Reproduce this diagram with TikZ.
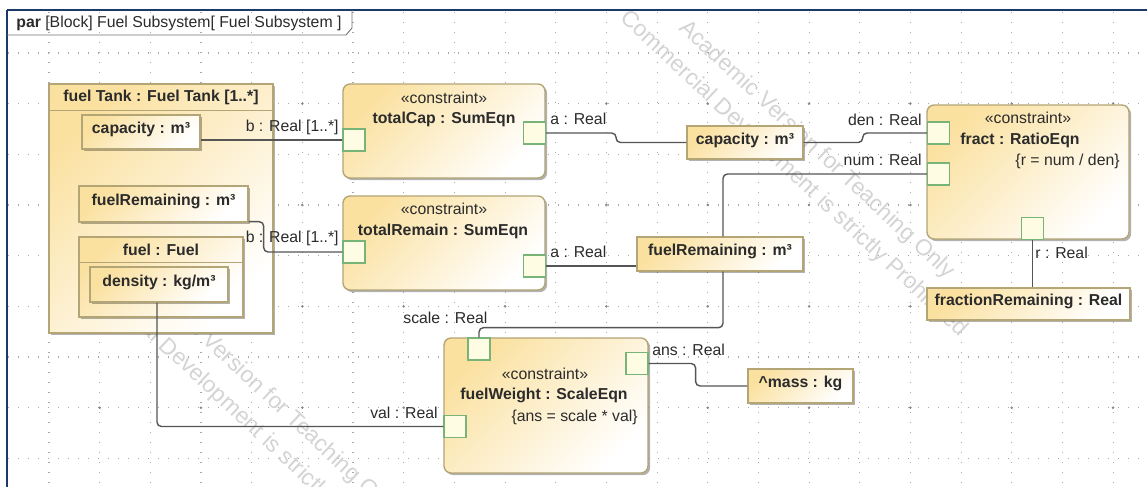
\documentclass[tikz,border=0pt]{standalone}
\usepackage{fontspec}
\setmainfont{Liberation Sans}
\usepackage{tikz}
\usetikzlibrary{positioning,calc,shadows}
\definecolor{umlamber}{HTML}{FBE1A0}
\definecolor{umlline}{HTML}{B3A575}
\definecolor{portfill}{HTML}{FFFCE4}
\definecolor{portline}{HTML}{78B478}
\definecolor{wire}{HTML}{555555}
\definecolor{framenavy}{HTML}{1C3A68}
\definecolor{gridgray}{HTML}{A8A8A8}
\definecolor{inktext}{HTML}{2B2B2B}
\tikzset{
  boxshade/.style={top color=umlamber, bottom color=white, shading angle=45},
  boxshadow/.style={drop shadow={shadow xshift=1.2pt, shadow yshift=-1.2pt,
    fill=black, opacity=0.3}},
  partbox/.style={rectangle, draw=umlline, line width=0.8pt, boxshade, boxshadow,
    minimum width=#1, minimum height=0.68cm, inner sep=0pt,
    font=\fontsize{9}{10}\selectfont\bfseries, text=inktext,
    text height=0.75em, text depth=0.55em},
  partbox/.default=2.4cm,
  holderbox/.style={rectangle, draw=umlline, line width=0.8pt, boxshade, boxshadow,
    inner sep=0pt},
  cblock/.style={rectangle, rounded corners=4pt, draw=umlline, line width=0.8pt,
    boxshade, boxshadow, minimum width=4.04cm, minimum height=1.88cm, inner sep=0pt},
  portbox/.style={rectangle, draw=portline, fill=portfill, line width=0.7pt,
    minimum size=0.44cm, inner sep=0pt},
  stereo/.style={font=\fontsize{9}{10}\selectfont, text=inktext, inner sep=0pt},
  cname/.style={font=\fontsize{9}{10}\selectfont\bfseries, text=inktext, inner sep=0pt},
  pinlabel/.style={font=\fontsize{9}{10}\selectfont, text=inktext, inner sep=0pt},
  bindline/.style={draw=wire, line width=0.8pt, rounded corners=2.5pt},
  gridline/.style={draw=gridgray, line width=0.6pt, dash pattern=on 0.6pt off 5.09pt},
  watermark/.style={font=\fontsize{13}{19}\selectfont, text=black!17, align=center},
}

\begin{document}
\begin{tikzpicture}[x=0.02cm, y=-0.02cm]
\useasboundingbox (0,0) rectangle (1147,487);
\fill[white] (0,0) rectangle (1147,487);
% diagram grid
\foreach \k in {0,...,21}
  \draw[gridline] ({49+50.67*\k},12) -- ({49+50.67*\k},487);
\foreach \k in {0,...,8}
  \draw[gridline] (8,{53+50.67*\k}) -- (1147,{53+50.67*\k});
\foreach \i in {1,3,...,21}
  \foreach \j in {1,3,5,7}
    \fill[gridgray!80!black] ({49+50.67*\i},{53+50.67*\j}) circle (0.8pt);
% watermark
\node[watermark, rotate=-43] (wm1) at (805,162) {Academic Version for Teaching Only\\Commercial Development is strictly Prohibited};
\node[watermark, rotate=-43] (wm2) at (250,402) {Academic Version for Teaching Only\\Commercial Development is strictly Prohibited};
% frame
\draw[framenavy, line width=0.9pt] (7,10) -- (7,487);
\draw[framenavy, line width=1.6pt] (7,10) -- (1147,10);
\draw[black!55, line width=0.5pt] (7,35) -- (346,35) -- (352,28) -- (352,10);
\node[anchor=west, font=\fontsize{9}{10}\selectfont, text=inktext, inner sep=0pt] (tabT) at (16,23) {\textbf{par} [Block] Fuel Subsystem[ Fuel Subsystem ]};

% fuel tank part
\node[holderbox, minimum width=4.48cm, minimum height=4.98cm] (tank) at (161,208.5) {};
\draw[umlline, line width=0.8pt] ([yshift=-0.54cm]tank.north west) -- ([yshift=-0.54cm]tank.north east);
\node[cname] (tankT) at (161,97) {fuel Tank : Fuel Tank [1..*]};
\node[partbox=2.36cm] (capIn) at (141,132) {capacity : m³};
\node[partbox=3.38cm, minimum height=0.72cm] (frIn) at (163.5,204) {fuelRemaining : m³};
\node[holderbox, minimum width=3.28cm, minimum height=1.6cm] (fuel) at (161,277) {};
\draw[umlline, line width=0.8pt] ([yshift=-0.52cm]fuel.north west) -- ([yshift=-0.52cm]fuel.north east);
\node[cname] (fuelT) at (161,250) {fuel : Fuel};
\node[partbox=2.76cm, minimum height=0.7cm] (dens) at (159,284.5) {density : kg/m³};

% sum constraints
\node[cblock] (tc) at (444,131) {};
\node[stereo] (tcSt) at (444,98) {«constraint»};
\node[cname] (tcNm) at (444,119) {totalCap : SumEqn};
\node[portbox] (tcB) at (354,140) {};
\node[portbox] (tcA) at (534.5,133) {};
\node[cblock] (tr) at (444,243) {};
\node[stereo] (trSt) at (444,209) {«constraint»};
\node[cname] (trNm) at (443,231) {totalRemain : SumEqn};
\node[portbox] (trB) at (354,252) {};
\node[portbox] (trA) at (534.5,266) {};

% value parts
\node[partbox=2.32cm, minimum height=0.66cm] (capMid) at (745,142.5) {capacity : m³};
\node[partbox=3.32cm] (frMid) at (720,254) {fuelRemaining : m³};
\node[partbox=4.06cm, minimum height=0.64cm] (fracRem) at (1028.5,304) {fractionRemaining : Real};
\node[partbox=2.1cm] (mass) at (800.5,386) {\textasciicircum mass : kg};

% ratio constraint
\node[cblock, minimum height=2.68cm] (fr) at (1028,172) {};
\node[stereo] (frSt) at (1028,118) {«constraint»};
\node[cname] (frNm) at (1020,140) {fract : RatioEqn};
\node[stereo, anchor=east] (frEq) at (1120,161) {\{r = num / den\}};
\node[portbox] (frDen) at (938.5,133) {};
\node[portbox] (frNum) at (938.5,174) {};
\node[portbox] (frR) at (1032.5,228.5) {};

% scale constraint
\node[cblock, minimum width=4.08cm, minimum height=2.7cm] (fw) at (546,405.5) {};
\node[stereo] (fwSt) at (545,374) {«constraint»};
\node[cname] (fwNm) at (544,395) {fuelWeight : ScaleEqn};
\node[stereo, anchor=east] (fwEq) at (638,417) {\{ans = scale * val\}};
\node[portbox] (fwS) at (479,349) {};
\node[portbox] (fwA) at (637,363.5) {};
\node[portbox] (fwV) at (455,426.5) {};

% binding connectors
\draw[bindline] (capIn.east |- tcB.west) -- (tcB.west);
\draw[bindline] ([yshift=0.02cm]frIn.south east) -- ++(0.3cm,0) |- (trB.west);
\draw[bindline] (tcA.east) -- ++(1.4cm,0) |- (capMid.west);
\draw[bindline] (capMid.east) -- ++(1.18cm,0) |- (frDen.west);
\draw[bindline] (trA.east) -- (trA.east -| frMid.west);
\draw[bindline] ([xshift=0.06cm]frMid.north) |- (frNum.west);
\draw[bindline] ([xshift=0.06cm]frMid.south) -- ++(0,-1.12cm) -| (fwS.north);
\draw[bindline] (frR.south) -- (frR.south |- fracRem.north);
\draw[bindline] (fwA.east) -- ++(0.94cm,0) |- (mass.west);
\draw[bindline] ([xshift=-0.04cm]dens.south) |- (fwV.west);

% port labels
\node[pinlabel, anchor=east] (lbTcB) at (339,127) {b : Real [1..*]};
\node[pinlabel, anchor=east] (lbTrB) at (339,238) {b : Real [1..*]};
\node[pinlabel, anchor=west] (lbTcA) at (550,119) {a : Real};
\node[pinlabel, anchor=west] (lbTrA) at (550,252) {a : Real};
\node[pinlabel, anchor=east] (lbDen) at (922,120) {den : Real};
\node[pinlabel, anchor=east] (lbNum) at (922,160) {num : Real};
\node[pinlabel, anchor=west] (lbR) at (1035,253) {r : Real};
\node[pinlabel, anchor=west] (lbS) at (403,318) {scale : Real};
\node[pinlabel, anchor=west] (lbA) at (652,350) {ans : Real};
\node[pinlabel, anchor=east] (lbV) at (438,413) {val : Real};
\end{tikzpicture}
\end{document}
